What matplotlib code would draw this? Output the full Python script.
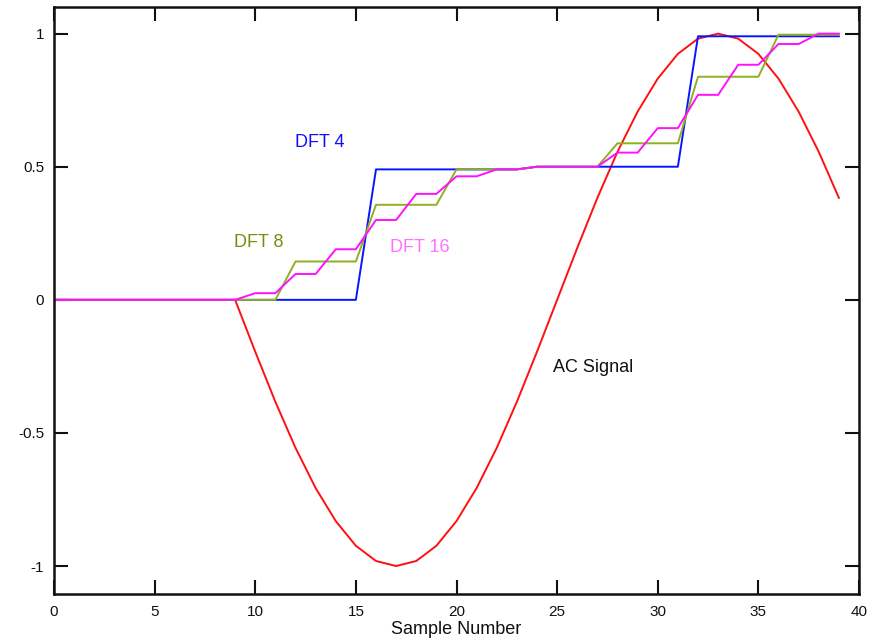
import matplotlib
matplotlib.use("Agg")
import matplotlib.pyplot as plt

plt.rcParams['font.family'] = ['Liberation Sans', 'DejaVu Sans']
plt.rcParams['axes.unicode_minus'] = False

samples = list(range(40))

ac_signal = [0, 0, 0, 0, 0, 0, 0, 0, 0, 0,
             -0.195, -0.383, -0.556, -0.707, -0.831, -0.924, -0.981, -1.0, -0.981, -0.924,
             -0.831, -0.707, -0.556, -0.383, -0.195, 0.0, 0.195, 0.383, 0.556, 0.707,
             0.831, 0.924, 0.981, 1.0, 0.981, 0.924, 0.831, 0.707, 0.556, 0.383]

dft4 = [0] * 16 + [0.49] * 8 + [0.50] * 8 + [0.99] * 8

dft8 = [0] * 12 + [0.144] * 4 + [0.357] * 4 + [0.49] * 4 + [0.50] * 4 + \
       [0.588] * 4 + [0.838] * 4 + [0.996] * 4

dft16 = [0] * 10 + [0.025] * 2 + [0.097] * 2 + [0.19] * 2 + [0.30] * 2 + \
        [0.398] * 2 + [0.464] * 2 + [0.49] * 2 + [0.50] * 4 + [0.553] * 2 + \
        [0.645] * 2 + [0.77] * 2 + [0.883] * 2 + [0.961] * 2 + [1.0] * 2

x_ticks = [0, 5, 10, 15, 20, 25, 30, 35, 40]
y_ticks = [-1, -0.5, 0, 0.5, 1]
y_tick_labels = ['-1', '-0.5', '0', '0.5', '1']

fig = plt.figure(figsize=(8.71, 6.42), dpi=100)
ax = fig.add_axes([54 / 871, 1 - 594 / 642, (859 - 54) / 871, (594 - 7) / 642])

lw = 1.4
ax.plot(samples, ac_signal, color='#ff1010', lw=lw)
ax.plot(samples, dft4, color='#0a14ff', lw=lw)
ax.plot(samples, dft8, color='#8fb020', lw=lw)
ax.plot(samples, dft16, color='#ff10ff', lw=lw)

ax.text(13.2, 0.59, 'DFT 4', color='#1010ff', fontsize=13, ha='center', va='center')
ax.text(10.15, 0.214, 'DFT 8', color='#7d8a12', fontsize=13, ha='center', va='center')
ax.text(18.2, 0.195, 'DFT 16', color='#ff70ff', fontsize=13, ha='center', va='center')
ax.text(26.8, -0.256, 'AC Signal', color='#111111', fontsize=13, ha='center', va='center')

ax.set_xlim(0, 40)
ax.set_ylim(-1.105, 1.10)
ax.set_xticks(x_ticks)
ax.set_yticks(y_ticks)
ax.set_yticklabels(y_tick_labels)
ax.tick_params(direction='in', length=10, width=1.5, top=True, right=True,
               labelsize=11, colors='#111111')
ax.tick_params(axis='x', pad=8)
ax.tick_params(axis='y', pad=7)
for s in ax.spines.values():
    s.set_linewidth(1.8)
    s.set_color('#111111')

ax.set_xlabel('Sample Number', fontsize=13, labelpad=1, color='#111111')

fig.savefig('out.png', dpi=100)
